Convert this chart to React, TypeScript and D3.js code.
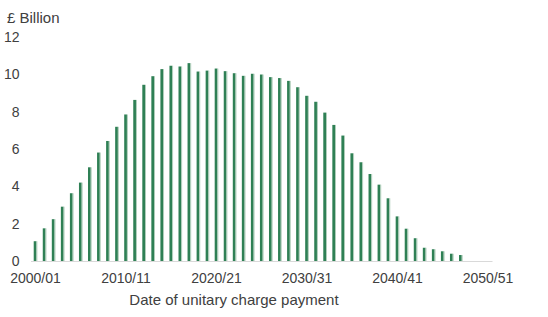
import React from "react";
import * as d3 from "d3";

const years: string[] = d3.range(2000, 2051).map(
  (y) => `${y}/${String((y + 1) % 100).padStart(2, "0")}`
);
const values: number[] = [
  1.06, 1.75, 2.24, 2.91, 3.63, 4.2, 5.02, 5.81, 6.43, 7.19,
  7.85, 8.63, 9.44, 9.9, 10.28, 10.46, 10.42, 10.6, 10.15, 10.2,
  10.31, 10.17, 10.06, 9.92, 10.03, 9.99, 9.85, 9.8, 9.65, 9.31,
  8.85, 8.53, 7.95, 7.29, 6.72, 5.77, 5.29, 4.66, 4.09, 3.36,
  2.39, 1.73, 1.22, 0.71, 0.63, 0.52, 0.39, 0.32, 0, 0, 0,
];
const yTicks: number[] = [0, 2, 4, 6, 8, 10, 12];
const xTickLabels: string[] = ["2000/01", "2010/11", "2020/21", "2030/31", "2040/41", "2050/51"];

export default function App() {
  const W = 548;
  const H = 317;
  const x = d3
    .scaleBand<string>()
    .domain(years)
    .range([31, 492.5])
    .paddingInner(0.6)
    .paddingOuter(0.3);
  const y = d3.scaleLinear().domain([0, 12]).range([261, 37]);
  const font = "'Liberation Sans', Arial, sans-serif";
  const textColor = "#404040";
  const bw = x.bandwidth();

  return (
    <svg
      width={W}
      height={H}
      style={{ position: "absolute", left: 0, top: 0, background: "#fff" }}
      fontFamily={font}
    >
      <text x={7} y={23} fontSize={15} fill={textColor}>
        £ Billion
      </text>
      {yTicks.map((t) => (
        <text
          key={t}
          x={19.5}
          y={y(t)}
          dy="0.35em"
          textAnchor="end"
          fontSize={14}
          fill={textColor}
        >
          {t}
        </text>
      ))}
      {years.map((yr, i) =>
        values[i] > 0 ? (
          <g key={yr}>
            <rect
              x={x(yr)!}
              y={y(values[i])}
              width={bw - 0.9}
              height={y(0) - y(values[i])}
              fill="#2f8055"
            />
            <rect
              x={x(yr)! + bw - 0.9}
              y={y(values[i])}
              width={0.9}
              height={y(0) - y(values[i])}
              fill="#a8c9b4"
            />
          </g>
        ) : null
      )}
      <line x1={31} x2={492.5} y1={261.5} y2={261.5} stroke="#d9d9d9" strokeWidth={1} />
      {xTickLabels.map((lab) => (
        <text
          key={lab}
          x={x(lab)! + bw / 2}
          y={283}
          textAnchor="middle"
          fontSize={14}
          fill={textColor}
        >
          {lab}
        </text>
      ))}
      <text x={234} y={305} textAnchor="middle" fontSize={15} fill={textColor}>
        Date of unitary charge payment
      </text>
    </svg>
  );
}
